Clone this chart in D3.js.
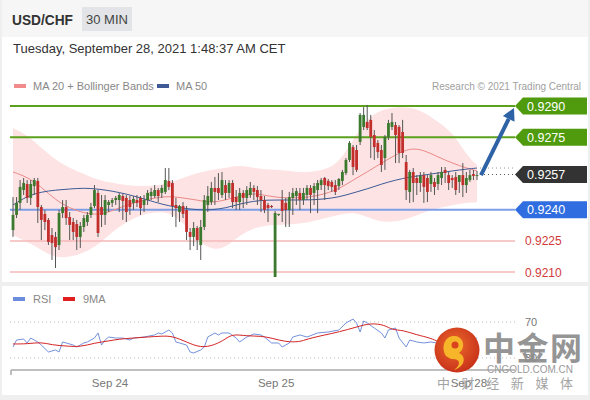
<!DOCTYPE html>
<html><head><meta charset="utf-8">
<script src="https://cdn.jsdelivr.net/npm/d3@7"></script>
<style>body{margin:0;background:#f0f0f0}svg{display:block;font-family:"Liberation Sans",Arial,sans-serif}</style>
</head><body><svg id="c" width="590" height="400"></svg>
<script>
// ---- candles (30 min) ----
const opens=[0.92302,0.92375,0.92433,0.92495,0.92524,0.92457,0.92514,0.92539,0.92413,0.92380,0.92351,0.92278,0.92269,0.92230,0.92384,0.92413,0.92365,0.92341,0.92331,0.92269,0.92317,0.92341,0.92375,0.92418,0.92481,0.92413,0.92375,0.92423,0.92433,0.92447,0.92447,0.92466,0.92457,0.92447,0.92433,0.92447,0.92457,0.92423,0.92447,0.92466,0.92466,0.92495,0.92481,0.92486,0.92539,0.92529,0.92423,0.92389,0.92418,0.92399,0.92293,0.92269,0.92312,0.92230,0.92317,0.92423,0.92437,0.92505,0.92505,0.92471,0.92519,0.92481,0.92529,0.92461,0.92437,0.92481,0.92457,0.92471,0.92505,0.92495,0.92466,0.92447,0.92423,0.92418,0.92076,0.92375,0.92447,0.92433,0.92399,0.92457,0.92466,0.92481,0.92447,0.92471,0.92505,0.92481,0.92495,0.92519,0.92553,0.92539,0.92534,0.92519,0.92514,0.92539,0.92577,0.92640,0.92702,0.92688,0.92727,0.92799,0.92823,0.92833,0.92760,0.92722,0.92688,0.92649,0.92751,0.92799,0.92808,0.92799,0.92775,0.92630,0.92486,0.92582,0.92553,0.92529,0.92567,0.92553,0.92524,0.92534,0.92524,0.92553,0.92592,0.92567,0.92553,0.92558,0.92534,0.92567,0.92519,0.92543,0.92572,0.92563];
const highs=[0.92461,0.92461,0.92543,0.92553,0.92543,0.92543,0.92553,0.92553,0.92423,0.92399,0.92360,0.92312,0.92293,0.92399,0.92447,0.92447,0.92389,0.92360,0.92351,0.92341,0.92375,0.92389,0.92433,0.92519,0.92495,0.92471,0.92471,0.92447,0.92457,0.92466,0.92481,0.92476,0.92471,0.92466,0.92466,0.92471,0.92466,0.92471,0.92495,0.92505,0.92519,0.92505,0.92519,0.92601,0.92601,0.92543,0.92457,0.92423,0.92437,0.92418,0.92312,0.92341,0.92322,0.92351,0.92471,0.92514,0.92534,0.92558,0.92577,0.92582,0.92543,0.92543,0.92543,0.92495,0.92505,0.92495,0.92514,0.92534,0.92519,0.92514,0.92495,0.92466,0.92433,0.92423,0.92394,0.92380,0.92495,0.92457,0.92486,0.92505,0.92505,0.92505,0.92505,0.92519,0.92519,0.92529,0.92543,0.92553,0.92558,0.92548,0.92543,0.92543,0.92553,0.92592,0.92649,0.92731,0.92712,0.92712,0.92866,0.92895,0.92905,0.92857,0.92784,0.92736,0.92712,0.92760,0.92833,0.92866,0.92823,0.92808,0.92833,0.92664,0.92592,0.92601,0.92567,0.92582,0.92582,0.92567,0.92582,0.92553,0.92582,0.92606,0.92606,0.92582,0.92567,0.92582,0.92567,0.92625,0.92582,0.92592,0.92592,0.92587];
const lows=[0.92269,0.92360,0.92399,0.92471,0.92433,0.92423,0.92471,0.92336,0.92254,0.92302,0.92230,0.92158,0.92119,0.92206,0.92360,0.92327,0.92254,0.92254,0.92206,0.92216,0.92293,0.92322,0.92360,0.92408,0.92269,0.92317,0.92327,0.92389,0.92413,0.92423,0.92389,0.92351,0.92341,0.92375,0.92399,0.92413,0.92375,0.92389,0.92423,0.92447,0.92457,0.92437,0.92457,0.92476,0.92495,0.92365,0.92317,0.92341,0.92360,0.92254,0.92206,0.92225,0.92206,0.92158,0.92302,0.92389,0.92423,0.92423,0.92447,0.92457,0.92447,0.92457,0.92408,0.92399,0.92399,0.92408,0.92423,0.92457,0.92447,0.92423,0.92389,0.92384,0.92341,0.92408,0.92076,0.92370,0.92341,0.92317,0.92317,0.92375,0.92423,0.92399,0.92423,0.92447,0.92384,0.92423,0.92384,0.92495,0.92447,0.92495,0.92486,0.92471,0.92495,0.92519,0.92567,0.92630,0.92567,0.92582,0.92712,0.92784,0.92784,0.92649,0.92640,0.92649,0.92582,0.92592,0.92736,0.92784,0.92625,0.92625,0.92649,0.92447,0.92433,0.92437,0.92471,0.92486,0.92433,0.92437,0.92486,0.92471,0.92495,0.92519,0.92529,0.92495,0.92505,0.92471,0.92481,0.92461,0.92481,0.92534,0.92543,0.92543];
const closes=[0.92375,0.92433,0.92510,0.92529,0.92457,0.92524,0.92543,0.92413,0.92351,0.92341,0.92245,0.92240,0.92220,0.92384,0.92413,0.92360,0.92327,0.92293,0.92269,0.92322,0.92360,0.92375,0.92413,0.92495,0.92288,0.92375,0.92447,0.92437,0.92447,0.92457,0.92471,0.92442,0.92389,0.92413,0.92452,0.92433,0.92408,0.92447,0.92481,0.92486,0.92495,0.92466,0.92505,0.92543,0.92510,0.92418,0.92408,0.92418,0.92380,0.92293,0.92269,0.92312,0.92254,0.92317,0.92447,0.92466,0.92505,0.92486,0.92481,0.92543,0.92481,0.92529,0.92437,0.92437,0.92481,0.92457,0.92495,0.92505,0.92486,0.92461,0.92447,0.92399,0.92408,0.92413,0.92384,0.92380,0.92394,0.92399,0.92461,0.92481,0.92490,0.92447,0.92481,0.92505,0.92471,0.92514,0.92529,0.92543,0.92519,0.92514,0.92510,0.92486,0.92548,0.92582,0.92640,0.92722,0.92606,0.92592,0.92857,0.92857,0.92794,0.92751,0.92702,0.92678,0.92616,0.92751,0.92818,0.92823,0.92760,0.92674,0.92674,0.92495,0.92582,0.92529,0.92529,0.92563,0.92510,0.92486,0.92567,0.92510,0.92567,0.92582,0.92577,0.92529,0.92543,0.92495,0.92567,0.92519,0.92553,0.92567,0.92563,0.92567];

// ---- overlays, sampled at candle positions ----
const ovIdx=[0,4,8,12,16,20,24,28,32,36,40,44,48,52,56,60,64,68,72,76,80,84,88,92,96,100,104,108,112,116,120,124,128,131];
const bbUpper=[0.92794,0.92760,0.92698,0.92640,0.92601,0.92572,0.92543,0.92529,0.92519,0.92514,0.92514,0.92529,0.92553,0.92577,0.92592,0.92601,0.92616,0.92601,0.92592,0.92592,0.92582,0.92582,0.92592,0.92625,0.92736,0.92842,0.92881,0.92895,0.92895,0.92871,0.92823,0.92775,0.92664,0.92616];
const bbLower=[0.92278,0.92245,0.92206,0.92167,0.92172,0.92192,0.92230,0.92293,0.92341,0.92375,0.92389,0.92389,0.92341,0.92254,0.92206,0.92216,0.92278,0.92312,0.92327,0.92327,0.92331,0.92341,0.92360,0.92375,0.92389,0.92365,0.92341,0.92341,0.92360,0.92389,0.92408,0.92423,0.92433,0.92437];
const ma20=[0.92582,0.92558,0.92510,0.92447,0.92408,0.92384,0.92375,0.92394,0.92423,0.92442,0.92457,0.92466,0.92457,0.92447,0.92433,0.92447,0.92466,0.92481,0.92466,0.92457,0.92457,0.92461,0.92476,0.92500,0.92543,0.92582,0.92625,0.92664,0.92698,0.92688,0.92654,0.92625,0.92601,0.92587];
const ma50=[0.92423,0.92466,0.92486,0.92495,0.92500,0.92505,0.92500,0.92490,0.92476,0.92457,0.92437,0.92418,0.92408,0.92399,0.92399,0.92408,0.92428,0.92442,0.92447,0.92447,0.92447,0.92447,0.92452,0.92461,0.92481,0.92500,0.92524,0.92543,0.92558,0.92567,0.92577,0.92587,0.92596,0.92601];

// ---- RSI panel ----
const rsiIdx=[0,1,3,4,5,7,8,10,12,13,14,15,17,18,20,21,23,24,25,26,27,29,31,33,34,37,40,41,42,44,45,46,47,49,50,51,53,54,55,57,58,59,61,63,64,66,68,70,71,73,75,76,78,79,81,83,86,89,92,94,96,97,98,99,100,102,104,105,106,108,109,111,112,114,116,118,121,123,126,129,131];
const rsiVal=[42.2,50,51.1,46.7,52.2,47.8,44.4,36.7,38.9,36.7,47.8,46.7,44.4,42.2,46.7,47.8,52.2,57.8,44.4,50,53.3,52.2,52.2,50,52.2,53.3,55.6,57.8,56.7,61.1,57.8,47.8,46.7,44.4,36.7,35.6,38.9,42.2,53.3,57.8,55.6,57.8,57.8,52.2,47.8,53.3,56.7,55.6,53.3,46.7,46.7,42.2,46.7,53.3,55.6,53.3,57.8,58.9,61.1,68.9,73.3,68.9,58.9,71.1,68.9,63.3,57.8,52.2,61.1,63.3,52.2,42.2,50,47.8,46.7,47.8,45.6,48.9,46.7,50,52.2];
const ma9Idx=[0,4,8,11,15,19,23,27,30,34,38,42,45,49,53,57,60,62,66,70,73,77,81,83,88,92,97,101,105,107,110,114,118,120,123,128,131];
const ma9Val=[45.6,45.6,47.8,44.4,43.3,42.2,46.7,48.9,51.1,52.2,53.3,54.4,54.4,47.8,41.1,44.4,51.1,56.7,54.4,54.4,52.2,47.8,47.8,51.1,55.6,58.9,64.4,68.9,66.7,61.1,61.1,55.6,52.2,47.8,46.7,47.8,48.9];
const rsiLevels=[70,30];

// ---- key levels ----
const levels=[0.9290,0.9275,0.9257,0.9240,0.9225,0.9210];
const levelKinds=["res","res","last","sup","minor","minor"];
const target=0.9290;

// ---- date axis ----
const dateTicks=[27.4,74.3,128.7];
const dateLabels=["Sep 24","Sep 25","Sep 28"];

const svg=d3.select("#c");
const x=d3.scaleLinear().domain([0,closes.length-1]).range([13,477]);
const y=d3.scaleLinear().domain([0.9210,0.9290]).range([272,106]);
const yr=d3.scaleLinear().domain([30,70]).range([358,322]);

// backgrounds
svg.append("rect").attr("width",590).attr("height",400).attr("fill","#efefef");
svg.append("rect").attr("x",2).attr("y",0).attr("width",586).attr("height",37).attr("fill","#f6f6f6");
svg.append("rect").attr("x",2).attr("y",37).attr("width",586).attr("height",245).attr("fill","#ffffff");
svg.append("rect").attr("x",2).attr("y",286).attr("width",586).attr("height",109).attr("fill","#ffffff");

// header
svg.append("text").attr("x",12).attr("y",25).attr("font-size",15).attr("font-weight","bold").attr("fill","#333")
  .attr("textLength",61).attr("lengthAdjust","spacingAndGlyphs").text("USD/CHF");
svg.append("rect").attr("x",82).attr("y",7).attr("width",50).attr("height",24).attr("fill","#e2e4e7");
svg.append("text").attr("x",107).attr("y",24).attr("text-anchor","middle").attr("font-size",13).attr("fill","#444").text("30 MIN");
svg.append("text").attr("x",13).attr("y",53).attr("font-size",13).attr("fill","#333").text("Tuesday, September 28, 2021 1:48:37 AM CET");

// legend
const leg=[{c:"#f28b8b",t:"MA 20 + Bollinger Bands",x:14},{c:"#3d5a96",t:"MA 50",x:157}];
leg.forEach(d=>{
  svg.append("rect").attr("x",d.x).attr("y",84).attr("width",12).attr("height",4).attr("fill",d.c);
  svg.append("text").attr("x",d.x+19).attr("y",90).attr("font-size",11).attr("fill","#888").text(d.t);
});
svg.append("text").attr("x",581).attr("y",90).attr("text-anchor","end").attr("font-size",10.5).attr("fill","#a0a0a0")
  .attr("textLength",149).attr("lengthAdjust","spacingAndGlyphs").text("Research \u00a9 2021 Trading Central");

// bollinger band
const ov=ovIdx.map((d,i)=>({i:d,u:bbUpper[i],l:bbLower[i],m20:ma20[i],m50:ma50[i]}));
svg.append("path").datum(ov).attr("fill","#fde3e3")
  .attr("d",d3.area().curve(d3.curveBasis).x(d=>x(d.i)).y0(d=>y(d.l)).y1(d=>y(d.u)));

// levels
const lineEnd=515;
const lvColor={res:"#5ca11e",last:"#444",sup:"#7d9ee8",minor:"#f5b8b8"};
levels.forEach((v,i)=>{
  const k=levelKinds[i];
  if(k==="last"){
    svg.append("line").attr("x1",x(closes.length-1)+3).attr("x2",lineEnd).attr("y1",y(v)).attr("y2",y(v))
      .attr("stroke","#555").attr("stroke-width",1).attr("stroke-dasharray","1,3");
    svg.append("line").attr("x1",x(closes.length-1)+3).attr("x2",lineEnd).attr("y1",y(ma50[ma50.length-1])).attr("y2",y(ma50[ma50.length-1]))
      .attr("stroke","#999").attr("stroke-width",1).attr("stroke-dasharray","1,3");
  } else {
    svg.append("line").attr("x1",10).attr("x2",lineEnd).attr("y1",y(v)).attr("y2",y(v))
      .attr("stroke",lvColor[k]).attr("stroke-width",k==="minor"?1.5:2);
  }
  const yy=y(v);
  if(k==="minor"){
    svg.append("text").attr("x",525).attr("y",yy+4.5).attr("font-size",12).attr("fill","#d03a3a").text(v.toFixed(4));
  } else {
    const fill=k==="res"?"#4f9b0d":k==="sup"?"#2f6de0":"#333";
    svg.append("path").attr("d",`M${lineEnd},${yy} L${lineEnd+8},${yy-8.5} L587,${yy-8.5} L587,${yy+8.5} L${lineEnd+8},${yy+8.5} Z`).attr("fill",fill);
    svg.append("text").attr("x",527).attr("y",yy+4.5).attr("font-size",12.5).attr("fill","#fff").text(v.toFixed(4));
  }
});

// moving averages
svg.append("path").datum(ov).attr("fill","none").attr("stroke","#ea8a8a").attr("stroke-width",1)
  .attr("d",d3.line().curve(d3.curveBasis).x(d=>x(d.i)).y(d=>y(d.m20)));
svg.append("path").datum(ov).attr("fill","none").attr("stroke","#3d5a96").attr("stroke-width",1)
  .attr("d",d3.line().curve(d3.curveBasis).x(d=>x(d.i)).y(d=>y(d.m50)));

// candles
const cd=closes.map((c,i)=>({i,o:opens[i],h:highs[i],l:lows[i],c}));
const g=svg.append("g");
g.selectAll("line.w").data(cd).join("line").attr("x1",d=>x(d.i)).attr("x2",d=>x(d.i))
  .attr("y1",d=>y(d.h)).attr("y2",d=>y(d.l)).attr("stroke","#555").attr("stroke-width",1);
g.selectAll("rect.b").data(cd).join("rect").attr("x",d=>x(d.i)-1.4).attr("width",2.8)
  .attr("y",d=>y(Math.max(d.o,d.c))).attr("height",d=>Math.max(1,Math.abs(y(d.o)-y(d.c))))
  .attr("fill",d=>d.c>=d.o?"#3b7a2e":"#c22e2c");

// forecast arrow
const ax0=x(closes.length-1)+4, ay0=y(closes[closes.length-1]);
const ax1=lineEnd-1, ay1=y(target)+2;
const ang=Math.atan2(ay1-ay0,ax1-ax0);
const bx=ax1-12*Math.cos(ang), by=ay1-12*Math.sin(ang);
svg.append("line").attr("x1",ax0).attr("y1",ay0).attr("x2",bx).attr("y2",by).attr("stroke","#2d62a6").attr("stroke-width",4);
const px=-Math.sin(ang)*6.5, py=Math.cos(ang)*6.5;
svg.append("path").attr("d",`M${ax1},${ay1} L${bx+px},${by+py} L${bx-px},${by-py} Z`).attr("fill","#2d62a6");

// ---- RSI panel ----
const leg2=[{c:"#6c8ddb",t:"RSI",x:13},{c:"#e01e1e",t:"9MA",x:63}];
leg2.forEach(d=>{
  svg.append("rect").attr("x",d.x).attr("y",297).attr("width",12).attr("height",4).attr("fill",d.c);
  svg.append("text").attr("x",d.x+20).attr("y",303).attr("font-size",11).attr("fill","#888").text(d.t);
});
rsiLevels.forEach(v=>{
  svg.append("line").attr("x1",10).attr("x2",517).attr("y1",yr(v)).attr("y2",yr(v))
    .attr("stroke","#bbb").attr("stroke-width",1).attr("stroke-dasharray","1,3");
  svg.append("text").attr("x",525).attr("y",yr(v)+4).attr("font-size",11).attr("fill","#777").text(v);
});
svg.append("path").datum(rsiIdx.map((d,i)=>[d,rsiVal[i]])).attr("fill","none").attr("stroke","#7391dc").attr("stroke-width",1)
  .attr("d",d3.line().x(d=>x(d[0])).y(d=>yr(d[1])));
svg.append("path").datum(ma9Idx.map((d,i)=>[d,ma9Val[i]])).attr("fill","none").attr("stroke","#d42424").attr("stroke-width",1)
  .attr("d",d3.line().curve(d3.curveBasis).x(d=>x(d[0])).y(d=>yr(d[1])));

// time axis
const xa=svg.append("g").attr("transform","translate(0,370)");
xa.append("line").attr("x1",11).attr("x2",515).attr("stroke","#aaa").attr("stroke-width",1.5);
xa.append("line").attr("x1",11).attr("x2",11).attr("y1",0).attr("y2",5).attr("stroke","#aaa").attr("stroke-width",1.5);
dateTicks.forEach((t,i)=>{
  xa.append("text").attr("x",x(t)).attr("y",17).attr("text-anchor","middle").attr("font-size",11.5).attr("fill","#777").text(dateLabels[i]);
});

// watermark
const wm=svg.append("g");
const grad=svg.append("defs").append("radialGradient").attr("id","lg").attr("cx","45%").attr("cy","40%").attr("r","60%");
grad.append("stop").attr("offset","0%").attr("stop-color","#ec6a2c");
grad.append("stop").attr("offset","100%").attr("stop-color","#c8321a");
wm.append("circle").attr("cx",457).attr("cy",350).attr("r",22.5).attr("fill","url(#lg)");
wm.append("path").attr("d","M446,356 C440,346 446,335 455,336 C464,337 466,348 459,353 C466,356 466,366 454,370 C462,364 460,358 451,359 Z").attr("fill","#f7b62a");
wm.append("circle").attr("cx",455).attr("cy",345).attr("r",3.5).attr("fill","#d9441e");
wm.append("text").attr("x",483).attr("y",360).attr("font-size",32).attr("font-weight","bold").attr("letter-spacing",1.5)
  .attr("font-family","'Noto Sans CJK SC',sans-serif").attr("fill","#8a8a8a").attr("opacity",0.9).text("中金网");
wm.append("text").attr("x",487).attr("y",373).attr("font-size",10).attr("textLength",86).attr("lengthAdjust","spacingAndGlyphs")
  .attr("fill","#9a9a9a").text("CNGOLD.COM.CN");
wm.append("text").attr("x",437).attr("y",388).attr("font-size",13).attr("textLength",136).attr("lengthAdjust","spacing")
  .attr("font-family","'Noto Sans CJK SC',sans-serif").attr("fill","#9a9a9a").attr("opacity",0.9).text("中财经新媒体");
</script></body></html>
